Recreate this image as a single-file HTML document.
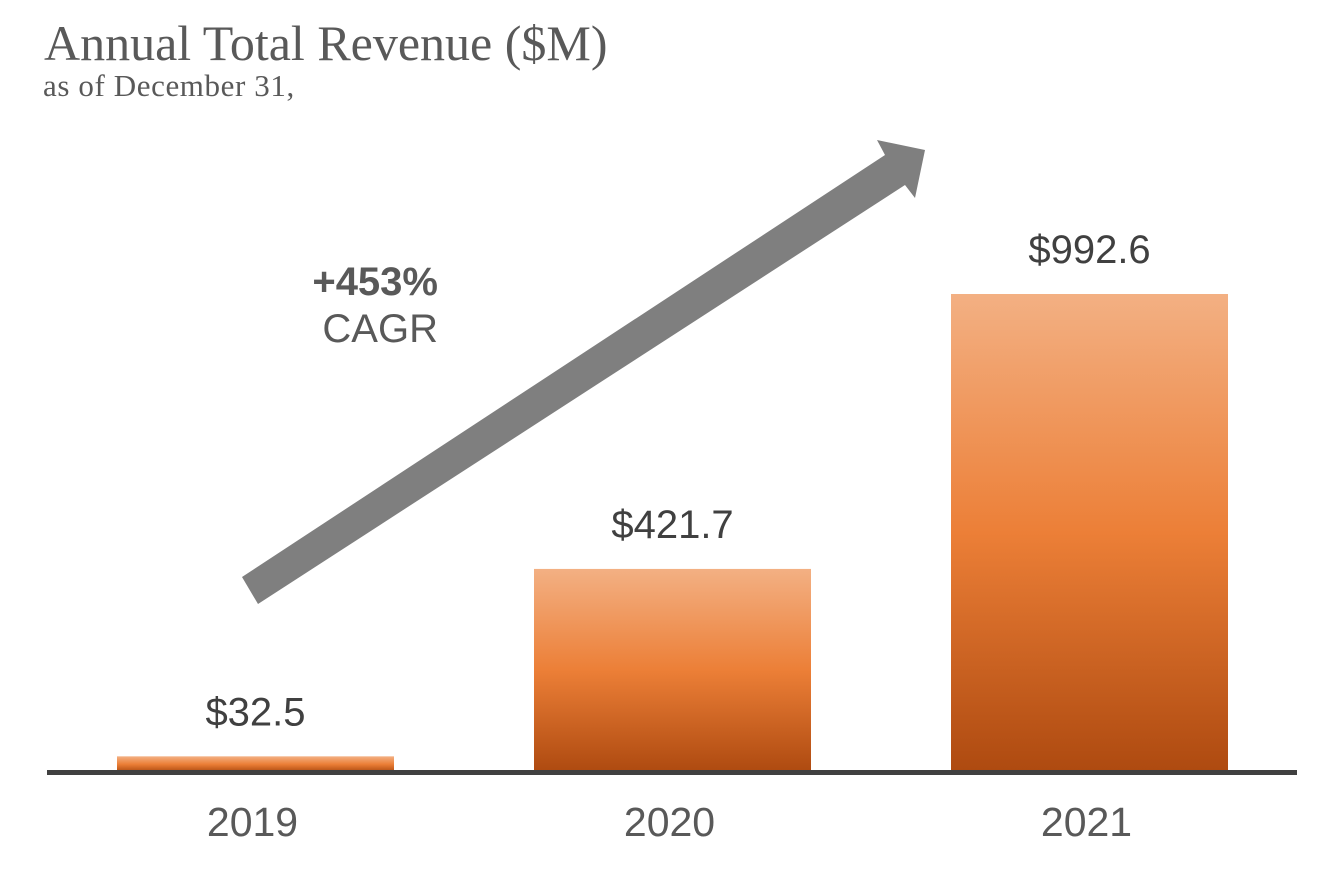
<!DOCTYPE html>
<html><head><meta charset="utf-8"><style>
body{margin:0;background:#fff;}
svg{display:block;}
</style></head><body>
<svg width="1344" height="872" xmlns="http://www.w3.org/2000/svg">
<defs>
<linearGradient id="g" x1="0" y1="0" x2="0" y2="1">
<stop offset="0" stop-color="#f3b083"/>
<stop offset="0.5" stop-color="#ec7f37"/>
<stop offset="1" stop-color="#ae4a10"/>
</linearGradient>
</defs>
<text x="44" y="60" font-family="Liberation Serif, serif" font-size="50" fill="#595959">Annual Total Revenue ($M)</text>
<text x="43" y="96" font-family="Liberation Serif, serif" font-size="31" letter-spacing="0.6" fill="#595959">as of December 31,</text>
<polygon fill="#7f7f7f" points="242,577 885,155 877,140 925,150 915,198 905,185 258,604"/>
<text x="438" y="295" text-anchor="end" font-family="Liberation Sans, sans-serif" font-size="40" font-weight="bold" fill="#595959">+453%</text>
<text x="438" y="342" text-anchor="end" font-family="Liberation Sans, sans-serif" font-size="40" fill="#595959">CAGR</text>
<g id="bars"></g>
<rect x="47" y="770" width="1250" height="5" fill="#404040"/>
</svg>
<script>
const categories = ["2019","2020","2021"];
const values = [32.5, 421.7, 992.6];
const labels = ["$32.5","$421.7","$992.6"];
const base = 772, scale = 478/992.6, x0 = 117, step = 417, bw = 277;
const y = v => base - v*scale;
const ns = "http://www.w3.org/2000/svg";
const g = document.getElementById("bars");
categories.forEach((c,i)=>{
  const x = x0 + i*step;
  const r = document.createElementNS(ns,"rect");
  
  
  r.setAttribute("x", x); r.setAttribute("y", y(values[i]));
  r.setAttribute("width", bw); r.setAttribute("height", base - y(values[i]));
  r.setAttribute("fill", "url(#g)");
  g.appendChild(r);
  const t = document.createElementNS(ns,"text");
  
  
  t.setAttribute("x", x + bw/2); t.setAttribute("y", y(values[i]) - 31);
  t.setAttribute("text-anchor","middle"); t.setAttribute("font-family","Liberation Sans, sans-serif");
  t.setAttribute("font-size","40"); t.setAttribute("fill","#404040");
  t.textContent = labels[i];
  g.appendChild(t);
  const k = document.createElementNS(ns,"text");
  
  
  k.setAttribute("x", x + bw/2 - 3); k.setAttribute("y", 836);
  k.setAttribute("text-anchor","middle"); k.setAttribute("font-family","Liberation Sans, sans-serif");
  k.setAttribute("font-size","41"); k.setAttribute("fill","#595959");
  k.textContent = c;
  g.appendChild(k);
});
</script>
</body></html>
